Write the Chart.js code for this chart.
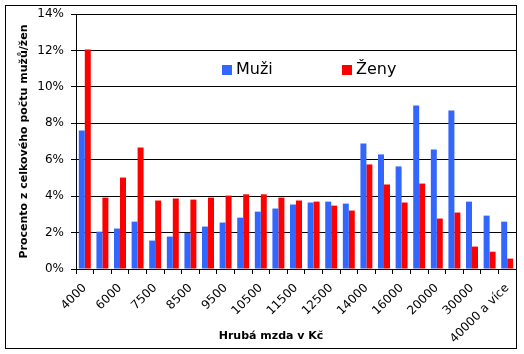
<!DOCTYPE html>
<html>
<head>
<meta charset="utf-8">
<script src="https://cdn.jsdelivr.net/npm/chart.js@4"></script>
<style>
  html, body { margin: 0; padding: 0; background: #fff; }
  #wrap { position: absolute; left: 5px; top: 5px; width: 510px; height: 342px; border: 1px solid #000; }
  canvas { display: block; }
</style>
</head>
<body>
<div id="wrap"><canvas id="myChart" width="510" height="342"></canvas></div>
<script>
const categories = ['4000', '5000', '6000', '7000', '7500', '8000', '8500', '9000', '9500', '10000',
    '10500', '11000', '11500', '12000', '12500', '13000', '14000', '15000', '16000', '18000',
    '20000', '25000', '30000', '35000', '40000 a více'];
const muzi = [7.6, 2.05, 2.22, 2.6, 1.56, 1.78, 1.98, 2.33, 2.55, 2.82,
    3.15, 3.32, 3.54, 3.65, 3.7, 3.59, 6.89, 6.29, 5.63, 8.98,
    6.56, 8.7, 3.7, 2.93, 2.6];
const zeny = [12.05, 3.92, 5.02, 6.67, 3.76, 3.87, 3.81, 3.92, 4.03, 4.1,
    4.1, 3.92, 3.76, 3.7, 3.48, 3.21, 5.74, 4.64, 3.65, 4.69,
    2.77, 3.1, 1.23, 0.95, 0.57];
const yTicks = [0, 2, 4, 6, 8, 10, 12, 14];

const font = "'DejaVu Sans', Verdana, sans-serif";

// legend inside the plot + x axis title
const extras = {
    id: 'extras',
    afterDraw(chart) {
        const c = chart.ctx;
        c.save();
        c.textBaseline = 'middle';
        c.textAlign = 'left';
        c.font = '16px ' + font;
        const items = [[216, chart.data.datasets[0]], [336, chart.data.datasets[1]]];
        items.forEach(([x, ds]) => {
            c.fillStyle = ds.backgroundColor;
            c.fillRect(x, 59, 10, 10);
            c.fillStyle = '#000';
            c.fillText(ds.label, x + 14, 64);
        });
        c.font = 'bold 11px ' + font;
        c.textAlign = 'center';
        c.fillText('Hrubá mzda v Kč', 265, 330);
        c.restore();
    }
};

document.addEventListener("DOMContentLoaded", function () {
    const ctx = document.getElementById('myChart');
    new Chart(ctx, {
        type: 'bar',
        data: {
            labels: categories,
            datasets: [{
                label: 'Muži',
                data: muzi,
                backgroundColor: '#3366ff'
            }, {
                label: 'Ženy',
                data: zeny,
                backgroundColor: '#ff0000'
            }]
        },
        options: {
            responsive: false,
            animation: false,
            layout: { padding: { top: 8, left: 0, right: 0, bottom: 0 } },
            datasets: { bar: { barPercentage: 1, categoryPercentage: 0.68 } },
            plugins: { legend: { display: false }, tooltip: { enabled: false } },
            scales: {
                x: {
                    grid: { drawOnChartArea: false, color: '#000', tickLength: 5, offset: true },
                    border: { color: '#000' },
                    ticks: {
                        autoSkip: false, minRotation: 45, maxRotation: 45, padding: 7,
                        color: '#000', font: { family: font, size: 12 },
                        callback: (v, i) => i % 2 === 0 ? categories[i] : ''
                    },
                    afterFit: s => { s.height = 79; s.paddingLeft = 0; s.paddingRight = 0; }
                },
                y: {
                    min: 0, max: 14,
                    afterBuildTicks: s => { s.ticks = yTicks.map(v => ({ value: v })); },
                    grid: { color: '#000', tickLength: 5 },
                    border: { color: '#000' },
                    ticks: {
                        padding: 7, color: '#000', font: { family: font, size: 12 },
                        callback: v => v + '%'
                    },
                    title: {
                        display: true, text: 'Procento z celkového počtu mužů/žen',
                        color: '#000', font: { family: font, size: 11, weight: 'bold' },
                        padding: { top: 12, bottom: 0 }
                    },
                    afterFit: s => { s.width = 70; s.paddingTop = 0; s.paddingBottom = 0; }
                }
            }
        },
        plugins: [extras]
    });
});
</script>
</body>
</html>
